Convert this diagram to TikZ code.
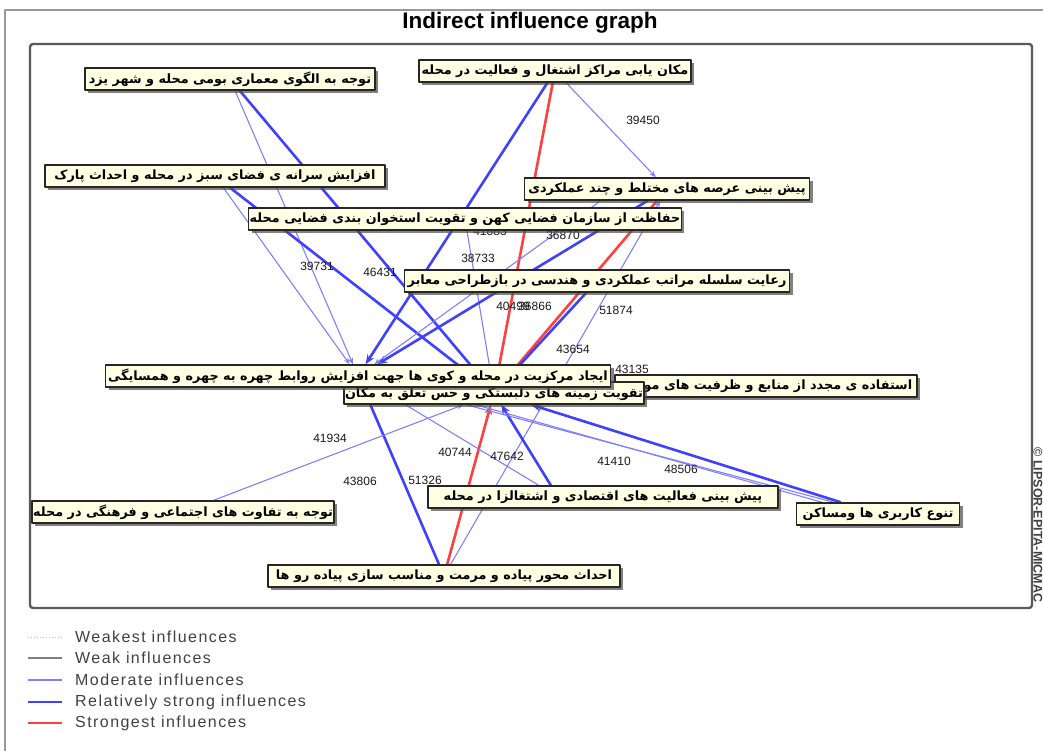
\documentclass[tikz,border=0pt]{standalone}
\usepackage{fontspec}
\setmainfont{Liberation Sans}
\newfontfamily\fafont[Script=Arabic]{DejaVu Sans}
\newfontfamily\legfont[LetterSpace=9]{Liberation Sans}
\TeXXeTstate=1
\usetikzlibrary{arrows.meta,shadows}
\pgfdeclarelayer{edges}
\pgfsetlayers{edges,main}
\definecolor{boxfill}{RGB}{255,255,228}
\definecolor{modblue}{RGB}{128,128,255}
\definecolor{strblue}{RGB}{64,64,255}
\definecolor{topred}{RGB}{255,64,64}
\definecolor{framegray}{RGB}{90,90,90}
\tikzset{
	varbox/.style={draw=black!85,line width=1.5pt,fill=boxfill,minimum height=22pt,inner xsep=1pt,inner ysep=0pt,
		drop shadow={shadow xshift=3pt,shadow yshift=-3pt,fill=black!70,opacity=.7},font=\fafont\bfseries\fontsize{12.8}{15}\selectfont},
	weakestline/.style={draw=black!25,line width=1pt,dotted},
	weakline/.style={draw=black!50,line width=1.1pt},
	modline/.style={draw=modblue,line width=1.1pt},
	strline/.style={draw=strblue,line width=2.6pt},
	redline/.style={draw=topred,line width=2.6pt},
	tip/.style={-{Stealth[length=4pt 2.2,width=3pt 1.8]}},
	num/.style={font=\fontsize{12}{13}\selectfont,inner sep=0pt,text=black!90}
}
\begin{document}
\begin{tikzpicture}[x=1pt,y=-1pt,line join=round,line cap=round]
	\useasboundingbox (0,0) rectangle (1043,751);
	%%Frame
	\draw[black!40,line width=1.2pt] (1043,10)--(5,10)--(5,751);
	\node[font=\bfseries\fontsize{22.5}{26}\selectfont] (title) at (530,23) {Indirect influence graph};
	\draw[framegray,line width=2.4pt,rounded corners=3pt] (30,44) rectangle (1032,608);
	\node[rotate=-90,font=\bfseries\fontsize{12.5}{14}\selectfont,text=black!75] (copy) at (1038,525) {© LIPSOR-EPITA-MICMAC};
	%%Variables
	\foreach \n/\x/\y/\w/\t in {
		n1/230/79/290/{توجه به الگوی معماری بومی محله و شهر یزد},
		n2/555/71/272/{مکان یابی مراکز اشتغال و فعالیت در محله},
		n3/667/189/285/{پیش بینی عرصه های مختلط و چند عملکردی},
		n4/215/176/340/{افزایش سرانه ی فضای سبز در محله و احداث پارک},
		n5/465/219/430/{حفاظت از سازمان فضایی کهن و تقویت استخوان بندی فضایی محله},
		n6/597/281/385/{رعایت سلسله مراتب عملکردی و هندسی در بازطراحی معابر},
		n10/183/512/273/{توجه به تفاوت های اجتماعی و فرهنگی در محله},
		n11/603/497/350/{پیش بینی فعالیت های اقتصادی و اشتغالزا در محله},
		n12/878/514/163/{تنوع کاربری ها ومساکن},
		n13/444/576/352/{احداث محور پیاده و مرمت و مناسب سازی پیاده رو ها},
		n9/766/386/302/{استفاده ی مجدد از منابع و ظرفیت های موجود},
		n8/494/393/297/{تقویت زمینه های دلبستگی و حس تعلق به مکان},
		n7/358/376/505/{ایجاد مرکزیت در محله و کوی ها جهت افزایش روابط چهره به چهره و همسایگی}}{
		\node[varbox,minimum width=\w pt] (\n) at (\x,\y) {\beginR\t\endR};
	}
	\coordinate (n3b) at ([xshift=-50pt]n3.center);
	\coordinate (n11b) at ([xshift=-45pt]n11.center);
	\coordinate (n12b) at ([yshift=-4pt]n12.center);
	\coordinate (n8w) at ([xshift=-60pt]n8.center);
	%%Influences
	\begin{pgfonlayer}{edges}
		\foreach \a/\b/\s in {n1/n7/modline,n1/n8/strline,n2/n7/strline,n2/n8/redline,n2/n3/modline,
			n4/n7/modline,n4/n8/strline,n5/n8/modline,n3/n7/strline,n3b/n7/modline,n3/n8/redline,
			n13/n3/modline,n6/n8/strline,n13/n7/strline,n13/n8/redline,n10/n8/modline,
			n11b/n8/strline,n11b/n7/modline,n12/n8/strline,n12/n7/modline,n12b/n8w/modline}{
			\draw[\s,tip] (\a)--(\b);
		}
		\foreach \x/\y/\t in {643/120/39450,317/266/39731,380/272/46431,478/258/38733,490/231/41883,
			563/235/36870,513/306/40499,535/306/36866,616/310/51874,573/349/43654,632/369/43135,
			330/438/41934,360/481/43806,425/480/51326,455/452/40744,507/456/47642,614/461/41410,681/469/48506}{
			\node[num] (w\t) at (\x,\y) {\t};
		}
	\end{pgfonlayer}
	%%Legend
	\foreach \y/\s/\t in {637/weakestline/Weakest influences,658/weakline/Weak influences,
		680/modline/Moderate influences,702/strline/Relatively strong influences,723/redline/Strongest influences}{
		\draw[\s,line cap=butt] (28,\y)--(62,\y);
		\node[anchor=west,inner sep=0pt,font=\legfont\fontsize{16}{18}\selectfont,text=black!75] (leg\y) at (75,\y) {\t};
	}
\end{tikzpicture}
\end{document}
